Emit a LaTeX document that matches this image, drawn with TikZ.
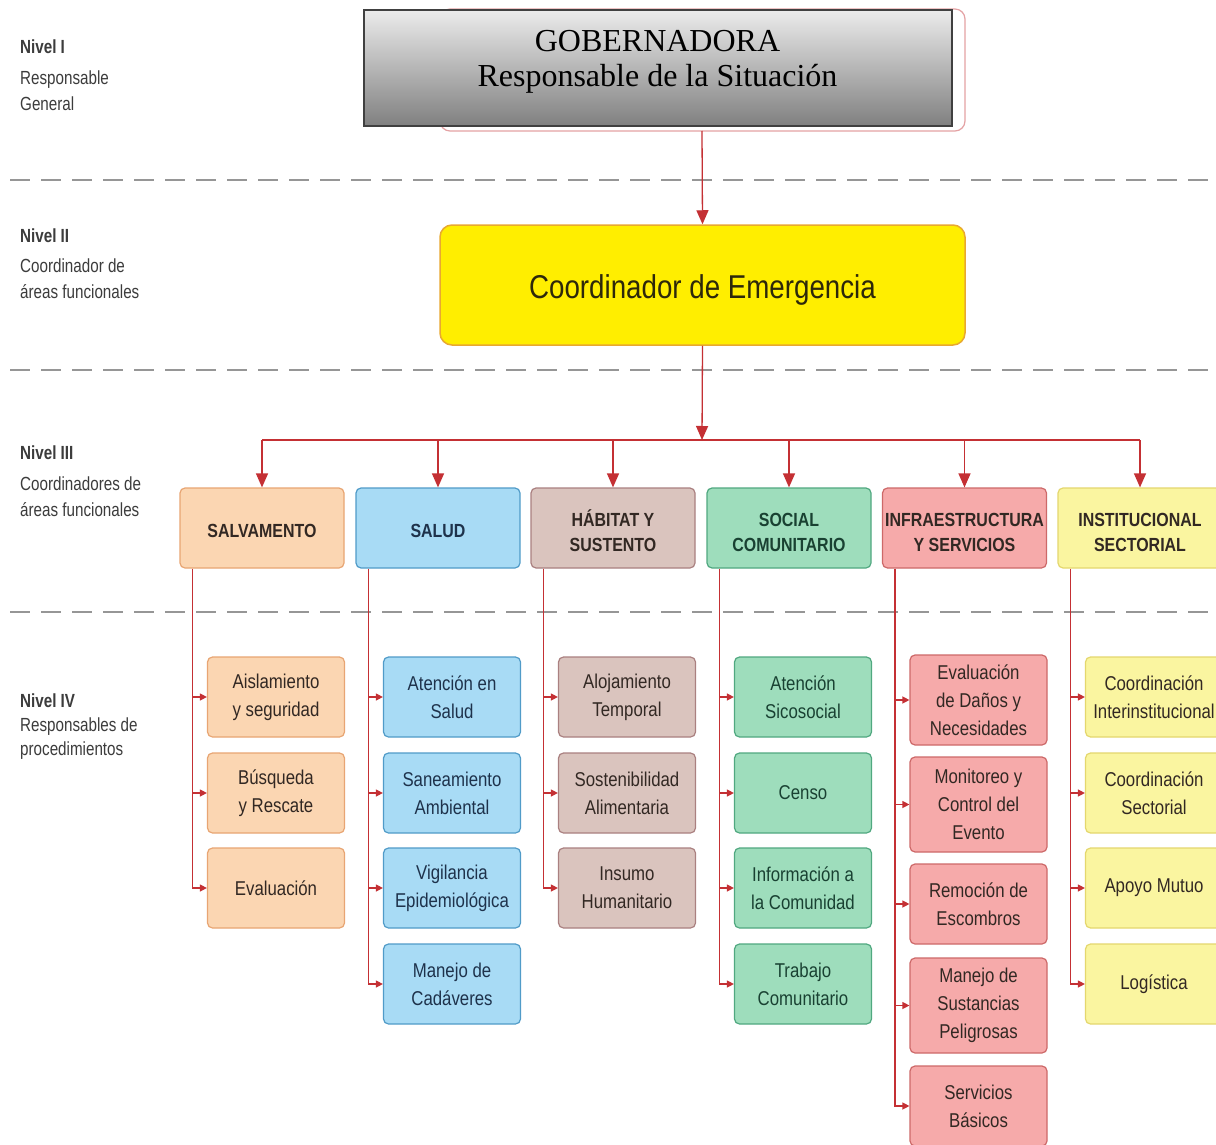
\documentclass[tikz,border=0pt]{standalone}
\usepackage{fontspec}
\setmainfont{Liberation Serif}
\newfontfamily\nar{Liberation Sans}[FakeStretch=0.84]
\newfontfamily\narl{Liberation Sans}[FakeStretch=0.8]
\usetikzlibrary{arrows.meta}
\definecolor{linered}{RGB}{196,48,52}
\definecolor{dashgray}{RGB}{150,150,150}
\definecolor{lvltext}{RGB}{60,60,60}
\definecolor{salvF}{RGB}{251,214,178}\definecolor{salvD}{RGB}{232,165,115}
\definecolor{saluF}{RGB}{168,219,245}\definecolor{saluD}{RGB}{80,155,200}
\definecolor{habiF}{RGB}{218,196,190}\definecolor{habiD}{RGB}{170,128,128}
\definecolor{sociF}{RGB}{158,221,188}\definecolor{sociD}{RGB}{80,168,128}
\definecolor{infrF}{RGB}{246,170,170}\definecolor{infrD}{RGB}{205,105,105}
\definecolor{instF}{RGB}{250,245,160}\definecolor{instD}{RGB}{228,215,110}
\definecolor{coordF}{RGB}{255,238,0}\definecolor{coordD}{RGB}{232,168,48}
\definecolor{boxtext}{RGB}{50,40,35}
\definecolor{blutext}{RGB}{30,50,75}
\definecolor{grntext}{RGB}{25,65,50}
\definecolor{coordtext}{RGB}{45,40,10}
\newcommand{\hdrtwo}[2]{\raisebox{-10pt}[0pt][0pt]{\begin{tabular}{@{}c@{}}#1\\#2\end{tabular}}}
\newcommand{\hdrone}[1]{\raisebox{-9pt}[0pt][0pt]{#1}}
\begin{document}
\begin{tikzpicture}[x=1pt,y=-1pt,
  conn/.style={draw=linered,line width=1.3pt},
  bigarr/.style={conn,-{Triangle[length=14pt,width=12pt]}},
  smallarr/.style={conn,-{Triangle[length=7pt,width=7pt]}},
  lvl/.style={anchor=north west,align=left,inner sep=0pt,text=lvltext,font=\narl\fontsize{19}{26}\selectfont},
  hdr/.style={rounded corners=5pt,line width=1.2pt,minimum width=164pt,minimum height=80pt,align=center,inner sep=2pt,text=boxtext,font=\nar\bfseries\fontsize{19}{25}\selectfont},
  leaf/.style={rounded corners=5pt,line width=1.2pt,minimum width=137pt,minimum height=80pt,align=center,inner sep=2pt,text=boxtext,font=\nar\fontsize{20}{28}\selectfont},
  sep/.style={draw=dashgray,line width=2pt,dash pattern=on 20pt off 11pt}
]
\useasboundingbox (0,0) rectangle (1216,1145);
\clip (0,0) rectangle (1216,1145);
\fill[white] (0,0) rectangle (1216,1145);

% level separators
\draw[sep] (10,180) -- (1216,180);
\draw[sep] (10,370) -- (1216,370);
\draw[sep] (10,612) -- (1216,612);

% level labels
\node[lvl] (l1) at (20,40) {\textbf{Nivel I}\\[5pt]Responsable\\General};
\node[lvl] (l2) at (20,229) {\textbf{Nivel II}\\[4pt]Coordinador de\\áreas funcionales};
\node[lvl] (l3) at (20,446) {\textbf{Nivel III}\\[5pt]Coordinadores de\\áreas funcionales};
\node[lvl,font=\narl\fontsize{19}{24}\selectfont] (l4) at (20,694) {\textbf{Nivel IV}\\Responsables de\\procedimientos};

% top: gobernadora
\draw[draw=linered!45,fill=white,line width=1.2pt,rounded corners=10pt] (440,9) rectangle (965,131);
\node[draw=black!75,line width=2pt,top color=black!8,bottom color=black!50,minimum width=588pt,minimum height=116pt,align=center,inner sep=0pt,font=\fontsize{32}{35}\selectfont,text=black] (gob) at (657.5,68.5) {\raisebox{0pt}[0pt][0pt]{\begin{tabular}{c}GOBERNADORA\\Responsable de la Situación\end{tabular}}};

% coordinador
\node[fill=coordF,draw=coordD,line width=1.5pt,rounded corners=12pt,minimum width=525pt,minimum height=120pt,text=coordtext,font=\nar\fontsize{33}{40}\selectfont] (coord) at (702.5,285) {\raisebox{-13pt}[0pt][0pt]{Coordinador de Emergencia}};
\coordinate (gobout) at (702,131);
\draw[bigarr] (gobout) -- (coord.north);

% headers
\node[hdr,fill=salvF,draw=salvD] (h1) at (262,528) {\hdrone{SALVAMENTO}};
\node[hdr,fill=saluF,draw=saluD,text=blutext] (h2) at (438,528) {\hdrone{SALUD}};
\node[hdr,fill=habiF,draw=habiD] (h3) at (613,528) {\hdrtwo{HÁBITAT Y}{SUSTENTO}};
\node[hdr,fill=sociF,draw=sociD,text=grntext] (h4) at (789,528) {\hdrtwo{SOCIAL}{COMUNITARIO}};
\node[hdr,fill=infrF,draw=infrD] (h5) at (964.5,528) {\hdrtwo{INFRAESTRUCTURA}{Y SERVICIOS}};
\node[hdr,fill=instF,draw=instD] (h6) at (1140,528) {\hdrtwo{INSTITUCIONAL}{SECTORIAL}};

% bus
\coordinate (bus) at (702,440);
\draw[bigarr] (coord.south) -- (bus);
\draw[conn] (h1.north |- bus) -- (h6.north |- bus);
\foreach \h in {h1,h2,h3,h4,h5,h6}{\draw[bigarr] (\h.north |- bus) -- (\h.north);}

% leaves column 1
\node[leaf,fill=salvF,draw=salvD] (a1) at (276,697) {Aislamiento\\y seguridad};
\node[leaf,fill=salvF,draw=salvD] (a2) at (276,793) {Búsqueda\\y Rescate};
\node[leaf,fill=salvF,draw=salvD] (a3) at (276,888) {Evaluación};
% column 2
\node[leaf,fill=saluF,draw=saluD,text=blutext] (b1) at (452,697) {Atención en\\Salud};
\node[leaf,fill=saluF,draw=saluD,text=blutext] (b2) at (452,793) {Saneamiento\\Ambiental};
\node[leaf,fill=saluF,draw=saluD,text=blutext] (b3) at (452,888) {Vigilancia\\Epidemiológica};
\node[leaf,fill=saluF,draw=saluD,text=blutext] (b4) at (452,984) {Manejo de\\Cadáveres};
% column 3
\node[leaf,fill=habiF,draw=habiD] (c1) at (627,697) {Alojamiento\\Temporal};
\node[leaf,fill=habiF,draw=habiD] (c2) at (627,793) {Sostenibilidad\\Alimentaria};
\node[leaf,fill=habiF,draw=habiD] (c3) at (627,888) {Insumo\\Humanitario};
% column 4
\node[leaf,fill=sociF,draw=sociD,text=grntext] (d1) at (803,697) {Atención\\Sicosocial};
\node[leaf,fill=sociF,draw=sociD,text=grntext] (d2) at (803,793) {Censo};
\node[leaf,fill=sociF,draw=sociD,text=grntext] (d3) at (803,888) {Información a\\la Comunidad};
\node[leaf,fill=sociF,draw=sociD,text=grntext] (d4) at (803,984) {Trabajo\\Comunitario};
% column 5
\node[leaf,fill=infrF,draw=infrD,minimum height=90pt] (e1) at (978.5,700) {Evaluación\\de Daños y\\Necesidades};
\node[leaf,fill=infrF,draw=infrD,minimum height=95pt] (e2) at (978.5,804.5) {Monitoreo y\\Control del\\Evento};
\node[leaf,fill=infrF,draw=infrD] (e3) at (978.5,904) {Remoción de\\Escombros};
\node[leaf,fill=infrF,draw=infrD,minimum height=95pt] (e4) at (978.5,1005.5) {Manejo de\\Sustancias\\Peligrosas};
\node[leaf,fill=infrF,draw=infrD] (e5) at (978.5,1106) {Servicios\\Básicos};
% column 6
\node[leaf,fill=instF,draw=instD] (f1) at (1154,697) {Coordinación\\Interinstitucional};
\node[leaf,fill=instF,draw=instD] (f2) at (1154,793) {Coordinación\\Sectorial};
\node[leaf,fill=instF,draw=instD] (f3) at (1154,888) {Apoyo Mutuo};
\node[leaf,fill=instF,draw=instD] (f4) at (1154,984) {Logística};

% trunks
\foreach \h/\last/\others in {h1/a3/{a1,a2},h2/b4/{b1,b2,b3},h3/c3/{c1,c2},h4/d4/{d1,d2,d3},h5/e5/{e1,e2,e3,e4},h6/f4/{f1,f2,f3}}{
  \coordinate (t\h) at ([xshift=13pt]\h.south west);
  \draw[smallarr] (t\h) |- (\last.west);
  \foreach \o in \others {\draw[smallarr] (t\h |- \o.west) -- (\o.west);}
}
\end{tikzpicture}
\end{document}
